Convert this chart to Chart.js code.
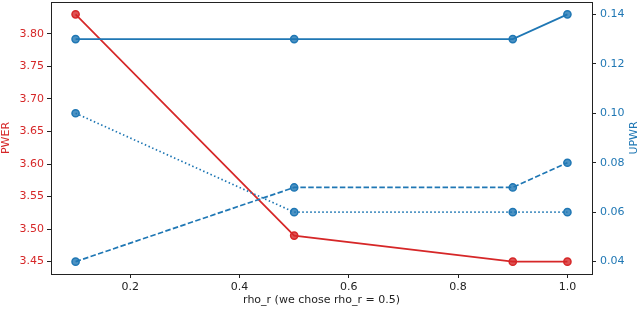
<!DOCTYPE html>
<html>
<head>
<meta charset="utf-8">
<script src="https://cdn.jsdelivr.net/npm/chart.js@4"></script>
<style>
  html, body { margin: 0; padding: 0; background: #fff; }
  #wrap { width: 640px; height: 310px; }
</style>
</head>
<body>
<div id="wrap"><canvas id="myChart"></canvas></div>
<script>
const rho = [0.1, 0.5, 0.9, 1.0];
const pwer = [3.83, 3.49, 3.45, 3.45];
const upwrSolid = [0.13, 0.13, 0.13, 0.14];
const upwrDotted = [0.10, 0.06, 0.06, 0.06];
const upwrDashed = [0.04, 0.07, 0.07, 0.08];

const rhoTicks = [0.2, 0.4, 0.6, 0.8, 1.0];
const pwerTicks = [3.45, 3.50, 3.55, 3.60, 3.65, 3.70, 3.75, 3.80];
const upwrTicks = [0.04, 0.06, 0.08, 0.10, 0.12, 0.14];

const red = "#d62728";
const blue = "#1f77b4";
const font = { family: "DejaVu Sans", size: 11 };

function pts(xs, ys) {
  return xs.map((x, i) => ({ x: x, y: ys[i] }));
}

function line(label, ys, color, axis, dash, order) {
  return {
    label: label,
    data: pts(rho, ys),
    yAxisID: axis,
    borderColor: color,
    backgroundColor: color + "cc",
    pointBorderColor: color,
    pointBackgroundColor: color + "cc",
    borderWidth: 1.7,
    borderDash: dash,
    pointRadius: 3.6,
    pointBorderWidth: 1.5,
    tension: 0,
    fill: false,
    order: order
  };
}

// frame + right-hand title (reads bottom to top like matplotlib)
const frame = {
  id: "frame",
  afterDraw(chart) {
    const a = chart.chartArea, ctx = chart.ctx;
    ctx.save();
    ctx.strokeStyle = "#222";
    ctx.lineWidth = 1;
    ctx.strokeRect(Math.round(a.left) + 0.5, Math.round(a.top) + 0.5,
      Math.round(a.right - a.left), Math.round(a.bottom - a.top));
    ctx.translate(634, (a.top + a.bottom) / 2);
    ctx.rotate(-Math.PI / 2);
    ctx.fillStyle = blue;
    ctx.font = "11px 'DejaVu Sans'";
    ctx.textAlign = "center";
    ctx.textBaseline = "middle";
    ctx.fillText("UPWR", 0, 0);
    ctx.restore();
  }
};

function fixTicks(arr) {
  return scale => { scale.ticks = arr.map(v => ({ value: v })); };
}

function noPad(size) {
  return s => {
    if (s.isHorizontal()) s.height = size; else s.width = size;
    s.paddingTop = 0; s.paddingBottom = 0; s.paddingLeft = 0; s.paddingRight = 0;
  };
}

new Chart("myChart", {
  type: "line",
  data: {
    datasets: [
      line("solid", upwrSolid, blue, "y1", [], 1),
      line("dotted", upwrDotted, blue, "y1", [1.5, 2.5], 1),
      line("dashed", upwrDashed, blue, "y1", [5.5, 2.4], 1),
      line("PWER", pwer, red, "y", [], 2)
    ]
  },
  options: {
    responsive: true,
    maintainAspectRatio: false,
    animation: false,
    layout: { autoPadding: false, padding: { top: 2, left: 0, right: 0, bottom: 0 } },
    plugins: { legend: { display: false }, tooltip: { enabled: false } },
    scales: {
      x: {
        type: "linear",
        min: 0.055,
        max: 1.045,
        afterBuildTicks: fixTicks(rhoTicks),
        afterFit: noPad(36),
        border: { display: false },
        grid: { drawOnChartArea: false, drawTicks: true, tickLength: 4, color: "#222" },
        ticks: { color: "#222", font: font, padding: 3, maxRotation: 0, callback: v => v.toFixed(1) },
        title: { display: true, text: "rho_r (we chose rho_r = 0.5)", color: "#222", font: font, padding: { top: 2, bottom: 3 } }
      },
      y: {
        position: "left",
        min: 3.431,
        max: 3.849,
        afterBuildTicks: fixTicks(pwerTicks),
        afterFit: noPad(51),
        border: { display: false },
        grid: { drawOnChartArea: false, drawTicks: true, tickLength: 4, color: "#222" },
        ticks: { color: red, font: font, padding: 3, callback: v => v.toFixed(2) },
        title: { display: true, text: "PWER", color: red, font: font, padding: { top: 0, bottom: 0 } }
      },
      y1: {
        position: "right",
        min: 0.035,
        max: 0.145,
        afterBuildTicks: fixTicks(upwrTicks),
        afterFit: noPad(48),
        border: { display: false },
        grid: { drawOnChartArea: false, drawTicks: true, tickLength: 4, color: "#222" },
        ticks: { color: blue, font: font, padding: 4, callback: v => v.toFixed(2) }
      }
    }
  },
  plugins: [frame]
});
</script>
</body>
</html>
